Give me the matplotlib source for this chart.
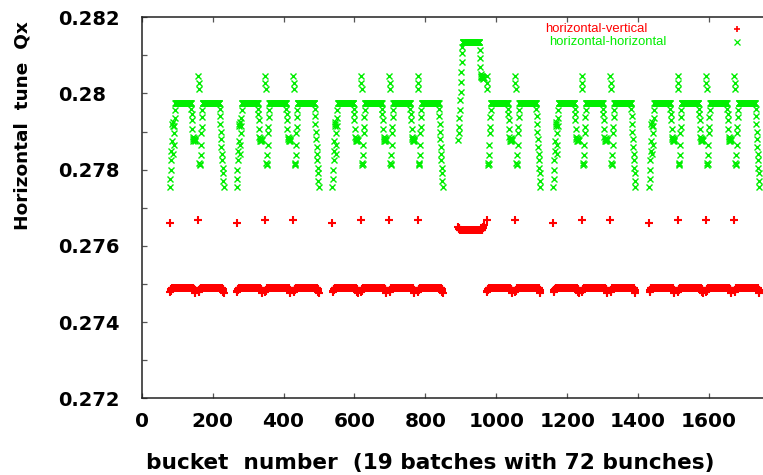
import numpy as np
import matplotlib.pyplot as plt

# ----------------------------
# Data
# ----------------------------

# first bucket of each of the 19 batches (72 bunches each)
batch_start = [80, 160, 268, 348, 428, 538, 618, 698, 778,
               893, 973, 1053, 1161, 1241, 1321, 1431, 1511, 1591, 1671]
# place of each batch inside its train
batch_kind = ['first', 'last',
              'first', 'mid', 'last',
              'first', 'mid', 'mid', 'last',
              'special', 'mid', 'last',
              'first', 'mid', 'last',
              'first', 'mid', 'mid', 'last']
bunches_per_batch = 72

# horizontal-horizontal tune (green)
hh_level = 0.27975
hh_lead_train = [0.27755, 0.27775, 0.27800, 0.27825, 0.27850, 0.27875, 0.27920, 0.27915,
                 0.27925, 0.27840, 0.27865, 0.27895, 0.27915, 0.27935, 0.27957]
hh_lead_batch = [0.28045, 0.28028, 0.28012, 0.27818, 0.27812, 0.27815,
                 0.27839, 0.27865, 0.27896, 0.27913, 0.27937, 0.27957]
hh_trail_batch = [0.27960, 0.27945, 0.27930, 0.27907, 0.27885, 0.27880,
                  0.27876, 0.27882, 0.27878, 0.27875, 0.27880, 0.27877]
hh_trail_train = [0.27960, 0.27940, 0.27920, 0.27900, 0.27880, 0.27860,
                  0.27840, 0.27825, 0.27805, 0.27790, 0.27770, 0.27755]
hh_special_level = 0.28136
hh_special_lead = [0.27878, 0.27896, 0.27913, 0.27935, 0.27957, 0.27983,
                   0.28005, 0.28031, 0.28057, 0.28083, 0.28106, 0.28123]
hh_special_trail = [0.28114, 0.28092, 0.28070, 0.28050, 0.28046, 0.28044,
                    0.28042, 0.28045, 0.28040, 0.28043, 0.28038, 0.28041]

# horizontal-vertical tune (red)
hv_first_train = 0.27661
hv_first_batch = 0.27668
hv_level = 0.27490
hv_lead = [0.27478, 0.27481, 0.27484, 0.27486, 0.27488, 0.27489]
hv_trail = [0.27488, 0.27486, 0.27483, 0.27480, 0.27477]
hv_special_level = 0.27643
hv_special_lead = [0.27650, 0.27648, 0.27646, 0.27645]
hv_special_trail = [0.27645, 0.27647, 0.27650, 0.27654]

y_ticks = [0.272, 0.274, 0.276, 0.278, 0.28, 0.282]
y_tick_labels = ['0.272', '0.274', '0.276', '0.278', '0.28', '0.282']
x_ticks = [0, 200, 400, 600, 800, 1000, 1200, 1400, 1600]


def fill(lead, level, trail, n=bunches_per_batch):
    return list(lead) + [level] * (n - len(lead) - len(trail)) + list(trail)


hh_x, hh_y, hv_x, hv_y = [], [], [], []
for start, kind in zip(batch_start, batch_kind):
    buckets = start + np.arange(bunches_per_batch)
    if kind == 'special':
        hh = fill(hh_special_lead, hh_special_level, hh_special_trail)
        hv = fill(hv_special_lead, hv_special_level, hv_special_trail)
    else:
        lead = hh_lead_train if kind == 'first' else hh_lead_batch
        trail = hh_trail_train if kind == 'last' else hh_trail_batch
        hh = fill(lead, hh_level, trail)
        first = hv_first_train if kind == 'first' else hv_first_batch
        hv = fill([first] + hv_lead, hv_level, hv_trail)
    hh_x.extend(buckets)
    hh_y.extend(hh)
    hv_x.extend(buckets)
    hv_y.extend(hv)

# ----------------------------
# Plot
# ----------------------------
red = '#ff0000'
green = '#00ee00'

fig = plt.figure(figsize=(7.63, 4.75), dpi=100)
ax = fig.add_axes([0.1857, 0.1615, 0.8143, 0.8021])

ax.plot(hv_x, hv_y, linestyle='none', marker='+', ms=5.2, mew=1.5, color=red)
ax.plot(hh_x, hh_y, linestyle='none', marker='x', ms=4.2, mew=1.0, color=green)

ax.set_xlim(0, 1752)
ax.set_ylim(0.272, 0.282)

ax.set_xticks(x_ticks)
ax.set_yticks(y_ticks)
ax.set_yticklabels(y_tick_labels)
ax.set_yticks(np.arange(0.273, 0.282, 0.002), minor=True)

for s in ['left', 'bottom', 'top']:
    ax.spines[s].set_linewidth(1.1)
    ax.spines[s].set_color('#222222')
ax.spines['right'].set_visible(False)

ax.tick_params(axis='both', which='both', direction='in', length=3.6, width=0.9,
               color='#555555', top=True, right=False)
ax.tick_params(axis='x', pad=10, labelsize=14.5)
ax.tick_params(axis='y', which='major', pad=60, labelsize=14)
for lab in ax.get_yticklabels():
    lab.set_horizontalalignment('left')
for lab in ax.get_xticklabels() + ax.get_yticklabels():
    lab.set_fontweight('bold')

fig.text(430 / 763, 1 - 463 / 475, 'bucket  number  (19 batches with 72 bunches)',
         ha='center', va='center', fontsize=15.6, fontweight='bold')
fig.text(23 / 763, 1 - 126 / 475, 'Horizontal  tune  Qx', rotation=90,
         ha='center', va='center', fontsize=13.3, fontweight='bold')

# key in the top right corner, gnuplot style
ax.text(0.650, 0.9685, 'horizontal-vertical', transform=ax.transAxes, color=red,
        fontsize=9.4, family='Liberation Sans', ha='left', va='center')
ax.text(0.6555, 0.936, 'horizontal-horizontal', transform=ax.transAxes, color=green,
        fontsize=9.4, family='Liberation Sans', ha='left', va='center')
ax.plot([0.9577], [0.9685], transform=ax.transAxes, marker='+', ms=5, mew=1.2,
        color=red, linestyle='none', clip_on=False)
ax.plot([0.9577], [0.936], transform=ax.transAxes, marker='x', ms=3.8, mew=0.9,
        color=green, linestyle='none', clip_on=False)

fig.savefig('out.png', dpi=100)
